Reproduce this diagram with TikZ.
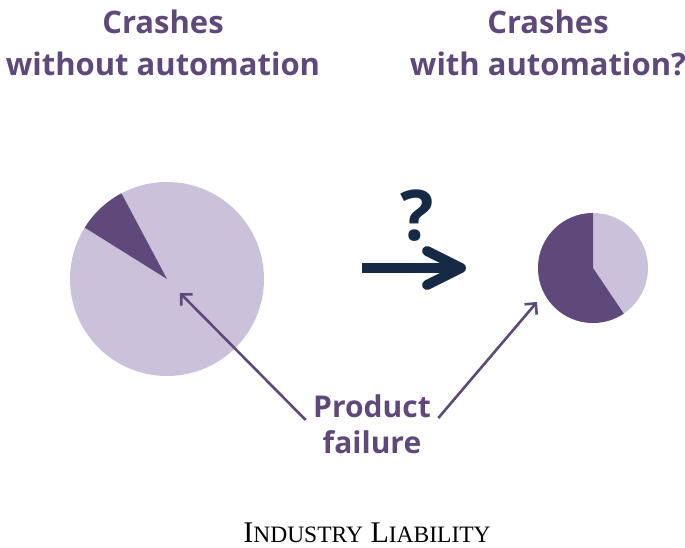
\documentclass[tikz,border=0pt]{standalone}
\usepackage{fontspec}
\setmainfont{Open Sans}
\newfontfamily\versalita{Liberation Serif}
\usetikzlibrary{positioning}
\usetikzlibrary{arrows.meta}

\definecolor{morado}{HTML}{5F497A}
\definecolor{lila}{HTML}{CCC1DA}
\definecolor{marino}{HTML}{152A45}

\newcommand{\gde}[1]{{\fontsize{30}{34}\selectfont #1}}
\newcommand{\peq}[1]{{\fontsize{23.5}{34}\selectfont #1}}

\begin{document}
\begin{tikzpicture}[x=1pt, y=1pt,
    titulo/.style={font=\fontsize{31}{42}\selectfont\bfseries, text=morado, align=center},
    flecha/.style={morado, line width=2.6pt, -{Straight Barb[length=8pt, width=16pt]}},
    grueso/.style={marino, line width=10pt}]
            \useasboundingbox (0,0) rectangle (685,547);
            % Nodos
            \node[titulo] (sin) at (163,504) {Crashes\\without automation};
            \node[titulo] (con) at (548,504) {Crashes\\with automation?};
            \node[titulo, font=\fontsize{30}{36}\selectfont\bfseries] (fallo) at (372,123) {Product\\failure};
            \node[text=marino, font=\fontsize{70}{70}\selectfont\bfseries] (preg) at (417,331) {?};
            \node[font=\versalita, anchor=base, inner sep=0pt] (industria) at (367,5) {\gde{I}\peq{NDUSTRY}\hspace{7.5pt}\gde{L}\peq{IABILITY}};
            \coordinate (c1) at (167,268);
            \coordinate (c2) at (593,279);
            \coordinate (p1) at (180,254);
            \coordinate (p2) at (537,245);
            \coordinate (m1) at (362,279);
            \coordinate (m2) at (461,279);

            % Tartas
            \fill[lila] (c1) circle (97);
            \fill[morado] (c1) -- ++(118:97) arc (118:148:97) -- cycle;
            \fill[lila] (c2) circle (55);
            \fill[morado] (c2) -- ++(90:55) arc (90:304:55) -- cycle;

            % Flechas
            \draw[flecha] ([shift={(-4,4)}]fallo.west) -- (p1);
            \draw[flecha] ([shift={(4,6)}]fallo.east) -- (p2);
            \draw[grueso] (m1) -- (m2);
            \draw[grueso, line cap=round, line join=round] ([shift={(-34,17)}]m2) -- (m2) -- ([shift={(-34,-17)}]m2);
          \end{tikzpicture}
\end{document}
